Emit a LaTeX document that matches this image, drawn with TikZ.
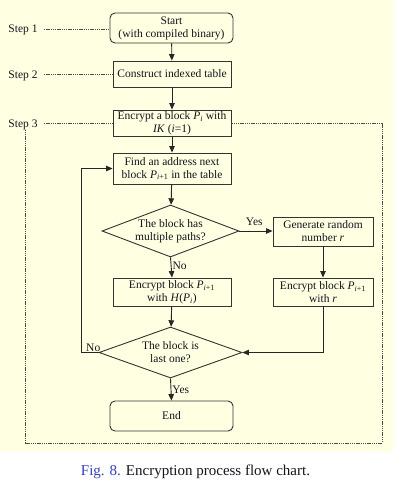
\documentclass[tikz,border=0pt]{standalone}
\usepackage{fontspec}
\setmainfont{Liberation Serif}
\usetikzlibrary{arrows.meta,shapes.geometric}
\definecolor{paper}{RGB}{255,255,226}
\definecolor{ink}{RGB}{20,20,30}
\definecolor{figblue}{RGB}{50,60,210}
\newcommand\Pv[1]{\textit{P}\textsubscript{#1}}
\begin{document}
\begin{tikzpicture}[x=1pt,y=-1pt,
  every node/.style={text=ink, font=\fontsize{11.5}{13}\selectfont},
  box/.style={draw=black!80, line width=0.9pt, align=center, inner sep=0pt},
  termbox/.style={box, rounded corners=5pt},
  choice/.style={box, diamond, aspect=2.7},
  flow/.style={draw=black!85, line width=0.9pt, -{Triangle[length=6.5pt,width=5.5pt]}},
  guide/.style={draw=black!70, line width=0.6pt, dash pattern=on 1.3pt off 0.9pt},
  steplabel/.style={inner sep=0pt},
  tag/.style={inner sep=1pt}]
\useasboundingbox (0,0) rectangle (401,485);
\fill[paper] (0,0) rectangle (393,452);

% process boxes
\node[termbox, minimum width=123pt, minimum height=30pt] (start) at (171.5,28) {Start\\(with compiled binary)};
\node[box, minimum width=118pt, minimum height=26pt] (table) at (172,74) {Construct indexed table};
\node[box, minimum width=118pt, minimum height=26pt] (first) at (172,123) {Encrypt a block \Pv{\textit{i}} with\\\textit{IK} (\textit{i}=1)};
\node[box, minimum width=118pt, minimum height=31pt] (find) at (172,168.5) {Find an address next\\block \Pv{\textit{i}+1} in the table};
\node[choice, minimum width=137pt, minimum height=52pt] (multi) at (170.5,231) {The block has\\multiple paths?};
\node[box, minimum width=100pt, minimum height=29pt] (rand) at (323,231.5) {Generate random\\number \textit{r}};
\node[box, minimum width=118pt, minimum height=28pt] (hash) at (172,292) {Encrypt block \Pv{\textit{i}+1}\\with \textit{H}(\Pv{\textit{i}})};
\node[box, minimum width=100pt, minimum height=28pt] (withr) at (323,292) {Encrypt block \Pv{\textit{i}+1}\\with \textit{r}};
\node[choice, minimum width=143pt, minimum height=51pt] (last) at (170.5,352.5) {The block is\\last one?};
\node[termbox, minimum width=123pt, minimum height=30pt] (end) at (171.5,416) {End};

% step labels and their guide lines
\node[steplabel] (s1) at (23,30) {Step 1};
\node[steplabel] (s2) at (23,75.5) {Step 2};
\node[steplabel] (s3) at (23,124.5) {Step 3};
\path[guide] (44,29) -- (start.west |- 44,29);
\path[guide] (44,74.5) -- (table.west |- 44,74.5);
\path[guide] (44,123) -- (first.west |- 44,123);

% dashed frame around step 3
\coordinate (fTR) at (382,123);
\coordinate (fBR) at (382,443);
\coordinate (fBL) at (25,443);
\coordinate (fTL) at (25,130);
\path[guide] (first.east |- fTR) -- (fTR) -- (fBR) -- (fBL) -- (fTL);

% flow connectors
\path[flow] (start) -- (table);
\path[flow] (table) -- (first);
\path[flow] (first) -- (find);
\path[flow] (find) -- (multi);
\path[flow] (multi.east) -- (rand.west |- multi.east) node[tag, pos=0.45, above=4pt] {Yes};
\path[flow] (multi.south) -- (hash.north) node[tag, pos=0.4, right=0pt] {No};
\path[flow] (rand) -- (withr);
\path[flow] (hash) -- (last);
\path[flow] (withr.south) |- (last.east);
\path[flow] (last.west) -- ++(-17,0) |- (find.west);
\node[tag, anchor=south west] (nolbl) at (85,353) {No};
\path[flow] (last.south) -- (end.north) node[tag, midway, right=0pt] {Yes};

% caption
\node[font=\fontsize{15}{17}\selectfont] (cap) at (195.5,472) {\textcolor{figblue}{Fig. 8.} Encryption process flow chart.};
\end{tikzpicture}
\end{document}
